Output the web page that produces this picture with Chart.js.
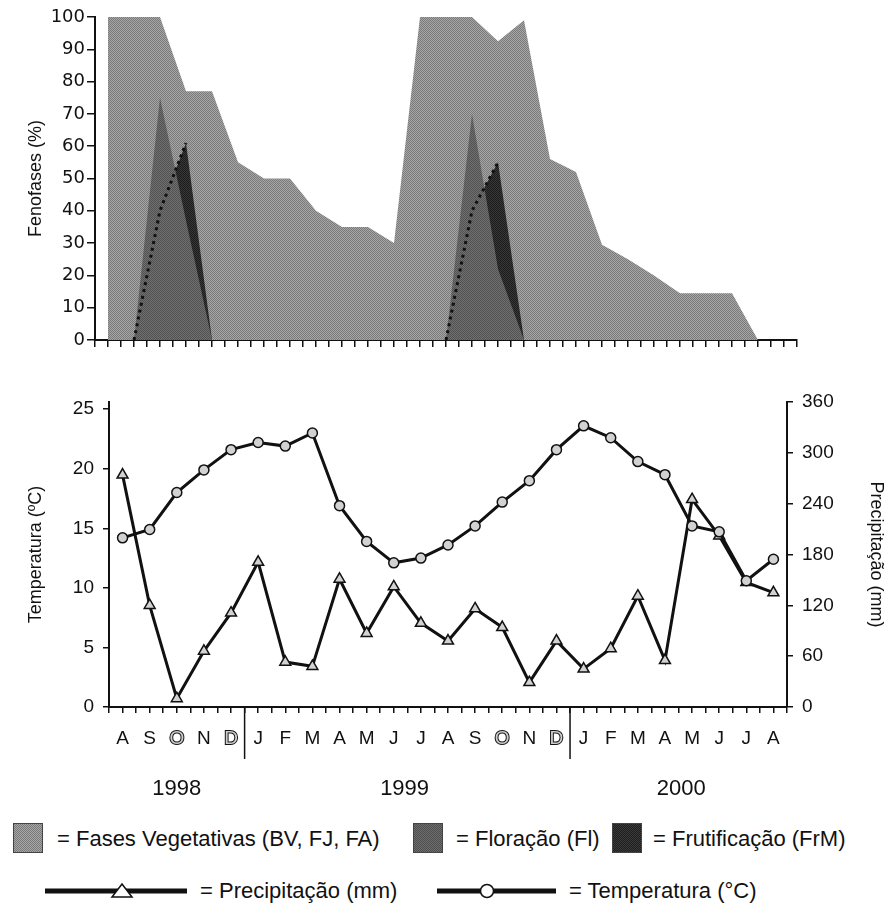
<!DOCTYPE html>
<html>
<head>
<meta charset="utf-8">
<script src="https://cdn.jsdelivr.net/npm/chart.js@4.4.1/dist/chart.umd.min.js"></script>
<style>
  body { margin: 0; background: #fff; }
  #wrap { position: relative; width: 888px; height: 907px; font-family: "Liberation Sans", Arial, sans-serif; color: #111; }
  .abs { position: absolute; }
  .txt { position: absolute; font-size: 22px; line-height: 22px; white-space: nowrap; }
  .sw { position: absolute; width: 30px; height: 30px; box-sizing: border-box; border: 1px solid #444; }
</style>
</head>
<body>
<div id="wrap">
  <canvas id="fenofases" class="abs" width="888" height="365" style="left:0;top:0"></canvas>
  <canvas id="clima" class="abs" width="888" height="420" style="left:0;top:380px"></canvas>

  <!-- legenda -->
  <div class="sw" style="left:13px;top:823px;background:repeating-conic-gradient(#a6a6a6 0 25%, #7a7a7a 0 50%) 0 0/2px 2px"></div>
  <div class="txt" style="left:57px;top:828px">= Fases Vegetativas (BV, FJ, FA)</div>
  <div class="sw" style="left:413px;top:823px;background:repeating-conic-gradient(#6e6e6e 0 25%, #4e4e4e 0 50%) 0 0/2px 2px"></div>
  <div class="txt" style="left:456px;top:828px">= Floração (Fl)</div>
  <div class="sw" style="left:612px;top:823px;background:repeating-conic-gradient(#3a3a3a 0 25%, #1e1e1e 0 50%) 0 0/2px 2px"></div>
  <div class="txt" style="left:653px;top:828px">= Frutificação (FrM)</div>

  <svg class="abs" style="left:40px;top:878px" width="155" height="26">
    <line x1="5" y1="13" x2="147" y2="13" stroke="#111" stroke-width="5"/>
    <polygon points="82,6 92,19 72,19" fill="#fff" stroke="#111" stroke-width="1.5"/>
  </svg>
  <div class="txt" style="left:200px;top:880px">= Precipitação (mm)</div>
  <svg class="abs" style="left:432px;top:878px" width="130" height="26">
    <line x1="5" y1="13" x2="124" y2="13" stroke="#111" stroke-width="5"/>
    <circle cx="55" cy="13" r="6.5" fill="#fff" stroke="#111" stroke-width="1.5"/>
  </svg>
  <div class="txt" style="left:569px;top:880px">= Temperatura (°C)</div>
</div>

<script>
// Fenofases (%) - meses a partir de agosto/1998
const fenoMonths = [0,1,2,3,4,5,6,7,8,9,10,11,12,13,14,15,16,17,18,19,20,21,22,23,24,25];
const vegetativas = [100,100,100,77,77,55,50,50,40,35,35,30,100,100,100,92.5,99,56,52,29.5,25,20,14.5,14.5,14.5,0];
const floracao    = [null,0,75,37,0,null,null,null,null,null,null,null,null,0,70,22,0,null,null,null,null,null,null,null,null,null];
const frutificacao = [null,0,40,61,0,null,null,null,null,null,null,null,null,0,40,55,0,null,null,null,null,null,null,null,null,null];

// Clima - ago/1998 a ago/2000
const monthLetters = ['A','S','O','N','D','J','F','M','A','M','J','J','A','S','O','N','D','J','F','M','A','M','J','J','A'];
const temperatura = [14.2,14.9,18.0,19.9,21.6,22.2,21.9,23.0,16.9,13.9,12.1,12.5,13.6,15.2,17.2,19.0,21.6,23.6,22.6,20.6,19.5,15.2,14.7,10.6,12.4];
const precipitacao = [274,120,10,66,111,171,53,48,151,87,142,99,78,116,94,29,78,45,69,131,55,245,202,147,135];
const yearLabels = ['1998','1999','2000'];
const yearPositions = [2, 10.4, 20.6];
const yearDividers = [4.5, 16.5];
const tempTicks = [0,5,10,15,20,25];
const precTicks = [0,60,120,180,240,300,360];

Chart.defaults.font.family = '"Liberation Sans", Arial, sans-serif';
Chart.defaults.color = '#111';

function checker(c1, c2) {
    const p = document.createElement('canvas');
    p.width = 2; p.height = 2;
    const g = p.getContext('2d');
    g.fillStyle = c1; g.fillRect(0, 0, 2, 2);
    g.fillStyle = c2; g.fillRect(0, 0, 1, 1); g.fillRect(1, 1, 1, 1);
    return g.createPattern(p, 'repeat');
}

const toPoints = (xs, ys) => ys.map((v, i) => ({ x: xs[i], y: v }));
const idx = monthLetters.map((_, i) => i);

// ---- gráfico superior: fenofases ----
new Chart(document.getElementById('fenofases'), {
    type: 'line',
    data: {
        datasets: [
            {   // Floração (desenhada por cima)
                data: toPoints(fenoMonths, floracao),
                backgroundColor: checker('#707070', '#525252'),
                borderColor: 'transparent',
                fill: 'origin', pointRadius: 0, tension: 0
            },
            {   // Frutificação
                data: toPoints(fenoMonths, frutificacao),
                backgroundColor: checker('#383838', '#1c1c1c'),
                borderColor: 'transparent',
                borderWidth: 3,
                borderDash: [3, 4],
                segment: {
                    borderColor: s => s.p1.parsed.y > s.p0.parsed.y ? '#111' : 'transparent'
                },
                fill: 'origin', pointRadius: 0, tension: 0
            },
            {   // Fases vegetativas
                data: toPoints(fenoMonths, vegetativas),
                backgroundColor: checker('#a6a6a6', '#7a7a7a'),
                borderColor: 'transparent',
                fill: 'origin', pointRadius: 0, tension: 0
            }
        ]
    },
    options: {
        responsive: false,
        animation: false,
        events: [],
        layout: { padding: { top: 17, right: 91, left: 0, bottom: 0 } },
        plugins: {
            legend: { display: false },
            tooltip: { enabled: false },
            filler: { drawTime: 'beforeDatasetsDraw' }
        },
        scales: {
            x: {
                type: 'linear', min: -0.5, max: 26.5,
                ticks: { stepSize: 0.5, display: false },
                grid: { display: true, drawOnChartArea: false, drawTicks: true, tickLength: 7, color: '#111', lineWidth: 1.5 },
                border: { color: '#111', width: 2 },
                afterFit: s => { s.height = 25; }
            },
            y: {
                min: 0, max: 100,
                ticks: { stepSize: 10, padding: 2, font: { family: '"DejaVu Sans"', size: 18 }, color: '#111' },
                grid: { display: true, drawOnChartArea: false, drawTicks: true, tickLength: 8, color: '#111', lineWidth: 1.5 },
                border: { color: '#111', width: 2 },
                title: { display: true, text: 'Fenofases (%)', font: { size: 18 }, padding: { top: 25, bottom: 0 } },
                afterFit: s => { s.width = 95; }
            }
        }
    }
});

// ---- gráfico inferior: temperatura e precipitação ----
const isMarked = v => Number.isInteger(v) && (monthLetters[v] === 'O' || monthLetters[v] === 'D');

const yearsPlugin = {
    id: 'years',
    afterDraw(chart) {
        const { ctx, chartArea, scales: { x } } = chart;
        ctx.save();
        ctx.strokeStyle = '#111';
        ctx.lineWidth = 1.5;
        yearDividers.forEach(v => {
            const px = x.getPixelForValue(v);
            ctx.beginPath();
            ctx.moveTo(px, chartArea.bottom);
            ctx.lineTo(px, chartArea.bottom + 52);
            ctx.stroke();
        });
        ctx.font = '22px "Liberation Sans", Arial, sans-serif';
        ctx.fillStyle = '#111';
        ctx.textAlign = 'center';
        ctx.textBaseline = 'middle';
        yearLabels.forEach((t, i) => ctx.fillText(t, x.getPixelForValue(yearPositions[i]), chartArea.bottom + 82));
        ctx.restore();
    }
};

new Chart(document.getElementById('clima'), {
    type: 'line',
    data: {
        datasets: [
            {
                label: 'Temperatura (°C)',
                data: toPoints(idx, temperatura),
                yAxisID: 'y',
                borderColor: '#111', borderWidth: 3, tension: 0,
                pointStyle: 'circle', pointRadius: 5,
                pointBackgroundColor: '#d2d2d2', pointBorderColor: '#111', pointBorderWidth: 1.5
            },
            {
                label: 'Precipitação (mm)',
                data: toPoints(idx, precipitacao),
                yAxisID: 'y1',
                borderColor: '#111', borderWidth: 3, tension: 0,
                pointStyle: 'triangle', pointRadius: 6.3,
                pointBackgroundColor: '#d2d2d2', pointBorderColor: '#111', pointBorderWidth: 1.5
            }
        ]
    },
    options: {
        responsive: false,
        animation: false,
        events: [],
        layout: { padding: { top: 22, right: 0, left: 0, bottom: 0 } },
        plugins: { legend: { display: false }, tooltip: { enabled: false } },
        scales: {
            x: {
                type: 'linear', min: -0.5, max: 24.5,
                ticks: {
                    stepSize: 0.5, autoSkip: false, maxRotation: 0, padding: 14,
                    font: { size: 19 },
                    callback: v => Number.isInteger(v) ? monthLetters[v] : '',
                    color: c => isMarked(c.tick.value) ? '#cdcdcd' : '#111',
                    textStrokeColor: '#111',
                    textStrokeWidth: c => isMarked(c.tick.value) ? 2 : 0
                },
                grid: { display: true, drawOnChartArea: false, drawTicks: true, tickLength: 6, color: '#111', lineWidth: 1.5 },
                border: { color: '#111', width: 2 },
                afterFit: s => { s.height = 93; }
            },
            y: {
                position: 'left', min: 0, max: 25.6,
                afterBuildTicks: s => { s.ticks = tempTicks.map(v => ({ value: v })); },
                ticks: { padding: 9, font: { size: 19 } },
                grid: { display: true, drawOnChartArea: false, drawTicks: true, tickLength: 6, color: '#111', lineWidth: 1.5 },
                border: { color: '#111', width: 2 },
                title: { display: true, text: 'Temperatura (ºC)', font: { size: 18 }, padding: { top: 25, bottom: 0 } },
                afterFit: s => { s.width = 109; }
            },
            y1: {
                position: 'right', min: 0, max: 360,
                afterBuildTicks: s => { s.ticks = precTicks.map(v => ({ value: v })); },
                ticks: { padding: 9, font: { size: 19 } },
                grid: { display: true, drawOnChartArea: false, drawTicks: true, tickLength: 6, color: '#111', lineWidth: 1.5 },
                border: { color: '#111', width: 2 },
                title: { display: true, text: 'Precipitação (mm)', font: { size: 18 }, padding: { top: 1, bottom: 0 } },
                afterFit: s => { s.width = 101; }
            }
        }
    },
    plugins: [yearsPlugin]
});
</script>
</body>
</html>
